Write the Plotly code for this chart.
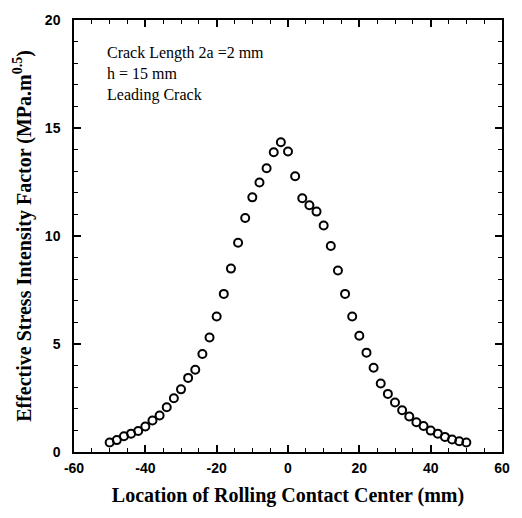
import plotly.graph_objects as go

location_mm = [-50, -48, -46, -44, -42, -40, -38, -36, -34, -32, -30, -28, -26, -24, -22, -20,
               -18, -16, -14, -12, -10, -8, -6, -4, -2, 0, 2, 4, 6, 8, 10, 12, 14, 16, 18, 20,
               22, 24, 26, 28, 30, 32, 34, 36, 38, 40, 42, 44, 46, 48, 50]
k_eff = [0.44, 0.55, 0.73, 0.85, 0.97, 1.18, 1.46, 1.69, 2.07, 2.49, 2.90, 3.43, 3.81, 4.54, 5.30, 6.27,
         7.32, 8.49, 9.69, 10.83, 11.79, 12.48, 13.14, 13.88, 14.34, 13.91, 12.77, 11.75, 11.42, 11.13, 10.49,
         9.54, 8.40, 7.32, 6.27, 5.38, 4.60, 3.90, 3.17, 2.69, 2.29, 1.93, 1.64, 1.38, 1.20, 0.99,
         0.85, 0.70, 0.58, 0.50, 0.44]

x_tickvals = [-60, -40, -20, 0, 20, 40, 60]
x_ticktext = ["-60", "-40", "-20", "0", "20", "40", "60"]
y_tickvals = [0, 5, 10, 15, 20]
y_ticktext = ["0", "5", "10", "15", "20"]

annotation_lines = ["Crack Length 2a =2 mm", "h = 15 mm", "Leading Crack"]

fig = go.Figure()
fig.add_trace(go.Scatter(
    x=location_mm, y=k_eff, mode="markers",
    marker=dict(symbol="circle-open", size=8, color="black", line=dict(width=2, color="black")),
    showlegend=False,
))

tickfont = dict(family="Liberation Sans Narrow, Liberation Sans", size=14, color="black", weight="bold")

fig.update_xaxes(
    range=[-60, 60], tickmode="array", tickvals=x_tickvals, ticktext=x_ticktext,
    ticks="inside", ticklen=7, tickwidth=1.5, ticklabelstandoff=2,
    tickcolor="black", showline=True, linecolor="black", linewidth=1.5, mirror="allticks",
    showgrid=False, zeroline=False, tickfont=tickfont,
    minor=dict(dtick=5, tick0=0, ticks="inside", ticklen=4, tickcolor="black", tickwidth=1, showgrid=False),
    title=dict(text="Location of Rolling Contact Center (mm)",
               font=dict(family="Liberation Serif", size=20, color="black", weight="bold"), standoff=13),
)
fig.update_yaxes(
    range=[0, 20], tickmode="array", tickvals=y_tickvals, ticktext=y_ticktext,
    ticks="inside", ticklen=7, tickwidth=1.5, ticklabelstandoff=9,
    tickcolor="black", showline=True, linecolor="black", linewidth=1.5, mirror="allticks",
    showgrid=False, zeroline=False, tickfont=tickfont,
    minor=dict(dtick=1, tick0=0, ticks="inside", ticklen=4, tickcolor="black", tickwidth=1, showgrid=False),
    title=dict(text="Effective Stress Intensity Factor (MPa.m<sup>0.5</sup>)",
               font=dict(family="Liberation Serif", size=20, color="black", weight="bold"), standoff=8),
)

fig.add_annotation(
    xref="paper", yref="paper", x=0.072, y=0.948, xanchor="left", yanchor="top",
    text="<br>".join(annotation_lines), showarrow=False, align="left",
    font=dict(family="Liberation Serif", size=16, color="black"),
)

fig.update_layout(
    width=522, height=518,
    margin=dict(l=74, r=15, t=13, b=66),
    paper_bgcolor="white", plot_bgcolor="white",
)

fig.write_html("out.html")
